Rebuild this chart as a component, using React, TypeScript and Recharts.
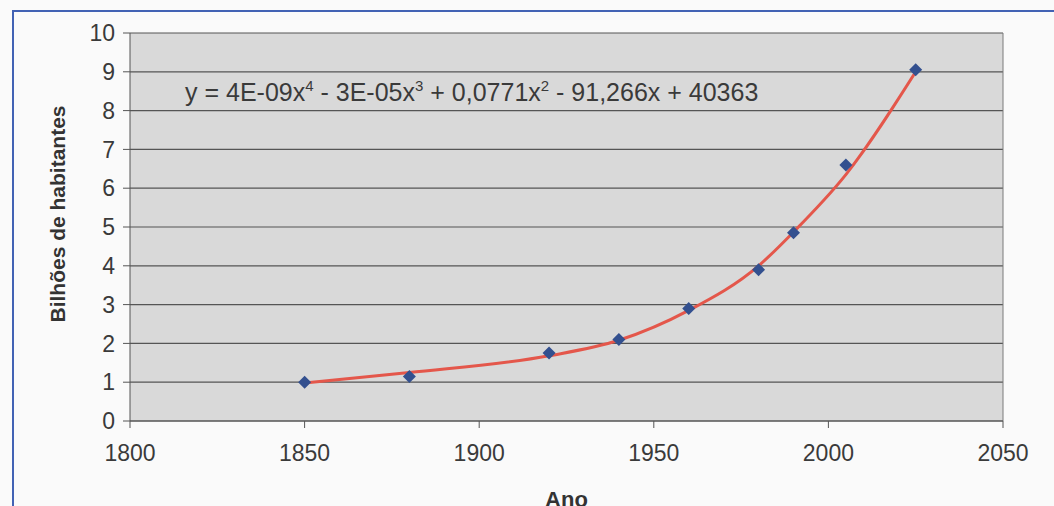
import React from "react";
import {
  ComposedChart,
  Scatter,
  Line,
  XAxis,
  YAxis,
  CartesianGrid,
  ReferenceLine,
} from "recharts";

const YEARS = [1850, 1880, 1920, 1940, 1960, 1980, 1990, 2005, 2025];
const POPULATION = [1.0, 1.15, 1.75, 2.1, 2.9, 3.9, 4.85, 6.6, 9.05];
// red polynomial trendline at the same years
const TREND = [0.98, 1.25, 1.68, 2.08, 2.85, 4.0, 4.87, 6.35, 9.0];

const X_TICKS = [1800, 1850, 1900, 1950, 2000, 2050];
const Y_TICKS = [0, 1, 2, 3, 4, 5, 6, 7, 8, 9, 10];

const FONT = "'Liberation Sans', Arial, sans-serif";
const TEXT = "#3a3a3a";

const data = YEARS.map((year, i) => ({ year, pop: POPULATION[i], trend: TREND[i] }));

const Diamond = (props: any) => {
  const { cx, cy } = props;
  if (cx == null || cy == null) return null;
  const r = 6.5;
  return (
    <polygon
      points={`${cx},${cy - r} ${cx + r},${cy} ${cx},${cy + r} ${cx - r},${cy}`}
      fill="#33508f"
    />
  );
};

const supStyle = { fontSize: 15, verticalAlign: "top", lineHeight: "18px" } as const;

export default function App() {
  return (
    <div
      style={{
        position: "absolute",
        left: 0,
        top: 0,
        width: 1054,
        height: 506,
        overflow: "hidden",
        background: "#fafafa",
        fontFamily: FONT,
      }}
    >
      <div
        style={{
          position: "absolute",
          left: 12,
          top: 10,
          width: 1054,
          height: 506,
          borderTop: "2px solid #4262b4",
          borderLeft: "2px solid #4262b4",
        }}
      />
      <div style={{ position: "absolute", left: 0, top: 0 }}>
        <ComposedChart
          width={1054}
          height={506}
          data={data}
          margin={{ top: 33, right: 51, left: 0, bottom: 35 }}
        >
          <CartesianGrid
            horizontal={true}
            vertical={false}
            stroke="#555555"
            strokeWidth={1.2}
            fill="#d9d9d9"
            fillOpacity={1}
          />
          <XAxis
            dataKey="year"
            type="number"
            domain={[1800, 2050]}
            ticks={X_TICKS}
            height={50}
            tickSize={7}
            tickMargin={17}
            axisLine={{ stroke: "#555555" }}
            tickLine={{ stroke: "#555555" }}
            tick={{ fill: TEXT, fontSize: 23, fontFamily: FONT }}
            label={{
              value: "Ano",
              position: "bottom",
              offset: 20,
              fill: "#333",
              fontSize: 22,
              fontWeight: "bold",
              fontFamily: FONT,
            }}
          />
          <YAxis
            type="number"
            domain={[0, 10]}
            ticks={Y_TICKS}
            width={130}
            tickSize={7}
            tickMargin={8}
            interval={0}
            axisLine={{ stroke: "#555555" }}
            tickLine={{ stroke: "#555555" }}
            tick={{ fill: TEXT, fontSize: 23, fontFamily: FONT }}
            label={{
              value: "Bilhões de habitantes",
              angle: -90,
              position: "center",
              dx: -7,
              dy: -13,
              fill: "#333",
              fontSize: 21,
              fontWeight: "bold",
              fontFamily: FONT,
            }}
          />
          <ReferenceLine x={2050} stroke="#7a7a7a" strokeWidth={1} />
          <Scatter dataKey="pop" shape={<Diamond />} isAnimationActive={false} />
          <Line
            dataKey="trend"
            type="monotone"
            stroke="#e4574b"
            strokeWidth={3}
            dot={false}
            activeDot={false}
            isAnimationActive={false}
          />
        </ComposedChart>
      </div>
      <div
        style={{
          position: "absolute",
          left: 185,
          top: 77,
          fontSize: 25,
          color: TEXT,
          whiteSpace: "nowrap",
          lineHeight: "30px",
        }}
      >
        y = 4E-09x<span style={supStyle}>4</span> - 3E-05x<span style={supStyle}>3</span> + 0,0771x
        <span style={supStyle}>2</span> - 91,266x + 40363
      </div>
    </div>
  );
}
